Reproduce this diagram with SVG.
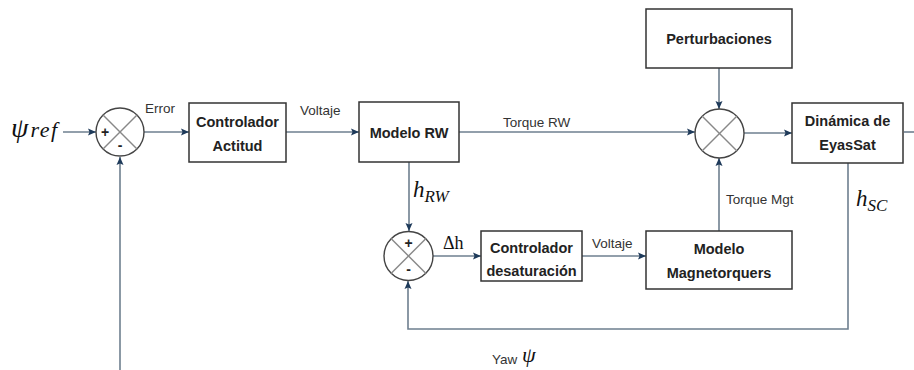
<svg xmlns="http://www.w3.org/2000/svg" width="914" height="370" viewBox="0 0 914 370">
<defs>
<marker id="arr" viewBox="0 0 8 8" refX="8" refY="4" markerWidth="8" markerHeight="8" markerUnits="userSpaceOnUse" orient="auto">
<path d="M0,0.5 L8,4 L0,7.5 L1.5,4 z" fill="#1e3a5a"/>
</marker>
<style>
.box{fill:#fff;stroke:#333;stroke-width:1.5}
.sum{fill:#fff;stroke:#444;stroke-width:1.4}
.x{stroke:#888;stroke-width:1.4}
.ln{fill:none;stroke:#6e7f8f;stroke-width:1.6}
.arr{marker-end:url(#arr)}
.bt{font-family:"Liberation Sans",Arial,sans-serif;font-weight:bold;font-size:14.5px;fill:#222;text-anchor:middle}
.lb{font-family:"Liberation Sans",Arial,sans-serif;font-size:13.5px;fill:#333}
.sg{font-family:"Liberation Sans",Arial,sans-serif;font-weight:bold;font-size:14px;fill:#222;text-anchor:middle}
.m{font-family:"Liberation Serif","DejaVu Serif",serif;font-style:italic;fill:#111}
</style>
</defs>

<g id="connectors">
<path class="ln arr" d="M63,132 H96"/>
<path class="ln arr" d="M144,132 H189"/>
<path class="ln arr" d="M286,132 H359"/>
<path class="ln arr" d="M459,132 H695"/>
<path class="ln arr" d="M719,68 V109"/>
<path class="ln arr" d="M744,133 H792"/>
<path class="ln" d="M904,132 H914"/>
<path class="ln arr" d="M409,162 V231"/>
<path class="ln arr" d="M433,256 H481"/>
<path class="ln arr" d="M582,256 H646"/>
<path class="ln arr" d="M719,231 V158"/>
<path class="ln arr" d="M848,163 V329 H408 V281"/>
<path class="ln arr" d="M120,370 V157"/>
</g>

<g id="sum1">
<circle class="sum" cx="120" cy="132" r="24"/>
<line class="x" x1="103" y1="115" x2="137" y2="149"/>
<line class="x" x1="137" y1="115" x2="103" y2="149"/>
<text class="sg" x="105" y="137">+</text>
<text class="sg" x="120" y="150">-</text>
</g>

<g id="ctrl_actitud">
<rect class="box" x="189" y="103" width="97" height="59"/>
<text class="bt" x="237.5" y="127">Controlador</text>
<text class="bt" x="237.5" y="151">Actitud</text>
</g>

<g id="modelo_rw">
<rect class="box" x="359" y="102" width="100" height="60"/>
<text class="bt" x="409" y="138">Modelo RW</text>
</g>

<g id="perturbaciones">
<rect class="box" x="646" y="9" width="146" height="59"/>
<text class="bt" x="719" y="44">Perturbaciones</text>
</g>

<g id="sum2">
<circle class="sum" cx="719.5" cy="133.5" r="24.5"/>
<line class="x" x1="702" y1="116" x2="737" y2="151"/>
<line class="x" x1="737" y1="116" x2="702" y2="151"/>
</g>

<g id="dinamica">
<rect class="box" x="792" y="103" width="111" height="60"/>
<text class="bt" x="847.5" y="126">Dinámica de</text>
<text class="bt" x="847.5" y="150">EyasSat</text>
</g>

<g id="sum3">
<circle class="sum" cx="408.5" cy="256" r="24.5"/>
<line class="x" x1="391" y1="238.5" x2="426" y2="273.5"/>
<line class="x" x1="426" y1="238.5" x2="391" y2="273.5"/>
<text class="sg" x="408.5" y="248">+</text>
<text class="sg" x="408.5" y="274">-</text>
</g>

<g id="ctrl_desat">
<rect class="box" x="481" y="231" width="101" height="50"/>
<text class="bt" x="531.5" y="253">Controlador</text>
<text class="bt" x="531.5" y="276">desaturación</text>
</g>

<g id="magnetorquers">
<rect class="box" x="646" y="231" width="146" height="58"/>
<text class="bt" x="719" y="254">Modelo</text>
<text class="bt" x="719" y="278">Magnetorquers</text>
</g>

<g id="labels">
<text class="m" x="11" y="137" font-size="28">ψ<tspan font-size="22" dx="2" letter-spacing="1.5">ref</tspan></text>
<text class="lb" x="145" y="113">Error</text>
<text class="lb" x="300" y="115">Voltaje</text>
<text class="lb" x="503" y="127">Torque RW</text>
<text class="m" x="413" y="197" font-size="23">h<tspan font-size="17" dy="5">RW</tspan></text>
<text x="443" y="249" font-family="Liberation Serif,serif" font-size="18" fill="#111">Δh</text>
<text class="lb" x="592" y="248">Voltaje</text>
<text class="lb" x="726" y="204">Torque Mgt</text>
<text class="m" x="856" y="206" font-size="23">h<tspan font-size="17" dy="5">SC</tspan></text>
<text class="lb" x="492" y="364" font-size="11.5">Yaw</text>
<text class="m" x="522" y="362" font-size="22">ψ</text>
</g>
</svg>
